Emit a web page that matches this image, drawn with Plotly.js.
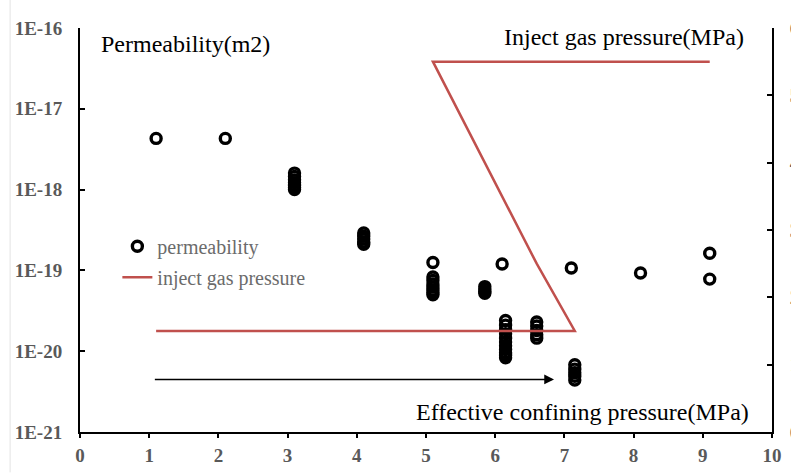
<!DOCTYPE html>
<html>
<head>
<meta charset="utf-8">
<script src="https://cdn.plot.ly/plotly-3.0.1.min.js"></script>
<style>html,body{margin:0;padding:0;background:#fff;}#chart{width:791px;height:475px;}</style>
</head>
<body>
<div id="chart"></div>
<script>
// Effective confining pressure (MPa) for each permeability measurement
const permX = [
  1.1, 2.1,
  3.1, 3.1, 3.1, 3.1, 3.1, 3.1, 3.1,
  4.1, 4.1, 4.1, 4.1, 4.1,
  5.1, 5.1, 5.1, 5.1, 5.1, 5.1, 5.1, 5.1,
  5.85, 5.85, 5.85, 5.85,
  6.1,
  6.15, 6.15, 6.15, 6.15, 6.15, 6.15, 6.15, 6.15, 6.15, 6.15, 6.15,
  6.6, 6.6, 6.6, 6.6, 6.6,
  7.1,
  7.15, 7.15, 7.15, 7.15, 7.15,
  8.1,
  9.1, 9.1
];
// Permeability (m2)
const permY = [
  4.3e-18, 4.3e-18,
  1.6e-18, 1.45e-18, 1.32e-18, 1.22e-18, 1.13e-18, 1.06e-18, 1.0e-18,
  2.9e-19, 2.65e-19, 2.45e-19, 2.25e-19, 2.1e-19,
  1.25e-19, 8.3e-20, 7.5e-20, 6.8e-20, 6.2e-20, 5.7e-20, 5.3e-20, 5.0e-20,
  6.3e-20, 5.9e-20, 5.5e-20, 5.2e-20,
  1.2e-19,
  2.4e-20, 2.1e-20, 1.85e-20, 1.65e-20, 1.45e-20, 1.3e-20, 1.17e-20, 1.05e-20, 9.6e-21, 8.9e-21, 8.3e-21,
  2.3e-20, 2.05e-20, 1.8e-20, 1.6e-20, 1.45e-20,
  1.07e-19,
  6.8e-21, 6.0e-21, 5.4e-21, 4.9e-21, 4.4e-21,
  9.3e-20,
  1.63e-19, 7.8e-20
];
// Inject gas pressure path (MPa) vs effective confining pressure (MPa)
const gasX = [1.1, 7.15, 6.6, 6.1, 5.6, 5.1, 9.1];
const gasY = [1.5, 1.5, 2.5, 3.5, 4.5, 5.5, 5.5];

const xTicks = [0, 1, 2, 3, 4, 5, 6, 7, 8, 9, 10];
const yTickVals = [1e-21, 1e-20, 1e-19, 1e-18, 1e-17, 1e-16];
const yTickText = ["1E-21", "1E-20", "1E-19", "1E-18", "1E-17", "1E-16"];
const y2Ticks = [0, 1, 2, 3, 4, 5, 6];

const serif = "Liberation Serif, Times New Roman, serif";
const tickFont = {family: serif, size: 19, color: "#595959", weight: "bold"};

const traces = [
  {
    x: permX, y: permY, type: "scatter", mode: "markers", name: "permeability",
    legendgroup: "a",
    marker: {symbol: "circle-open", size: 10, color: "#000", line: {width: 3.4, color: "#000"}},
    yaxis: "y"
  },
  {
    x: gasX, y: gasY, type: "scatter", mode: "lines", name: "inject gas pressure",
    legendgroup: "b",
    line: {color: "#C0504D", width: 2.5},
    yaxis: "y2"
  }
];

const layout = {
  width: 791, height: 475,
  margin: {l: 80, r: 19, t: 28, b: 43},
  paper_bgcolor: "#fff", plot_bgcolor: "#fff",
  font: {family: serif},
  showlegend: true,
  legend: {
    x: 0.054, y: 0.508, xanchor: "left", yanchor: "top",
    bgcolor: "rgba(0,0,0,0)",
    font: {family: serif, size: 20, color: "#6b6b6b"},
    traceorder: "grouped", tracegroupgap: 2
  },
  xaxis: {
    range: [0, 10], tickvals: xTicks, ticktext: xTicks.map(String),
    showgrid: false, zeroline: false, showline: true, linecolor: "#000", linewidth: 2,
    ticks: "outside", ticklen: 4, tickwidth: 2, tickcolor: "#000",
    tickfont: tickFont, ticklabelstandoff: 1
  },
  yaxis: {
    type: "log", range: [-21, -16], tickvals: yTickVals, ticktext: yTickText,
    showgrid: false, zeroline: false, showline: true, linecolor: "#000", linewidth: 2,
    ticks: "inside", ticklen: 5, tickwidth: 2, tickcolor: "#000",
    tickfont: tickFont, ticklabelstandoff: 12
  },
  yaxis2: {
    overlaying: "y", side: "right", range: [0, 6], tickvals: y2Ticks, ticktext: y2Ticks.map(String),
    showgrid: false, zeroline: false, showline: true, linecolor: "#000", linewidth: 2,
    ticks: "inside", ticklen: 5, tickwidth: 2, tickcolor: "#000",
    tickfont: tickFont, ticklabelstandoff: 12
  },
  shapes: [
    {type: "line", xref: "paper", yref: "paper", x0: -0.101, x1: -0.101, y0: -0.1, y1: 1.07,
     line: {color: "#e3e3e3", width: 1}}
  ],
  annotations: [
    {text: "Permeability(m2)", xref: "paper", yref: "paper", x: 0.028, y: 0.96,
     xanchor: "left", yanchor: "middle", showarrow: false,
     font: {family: serif, size: 24, color: "#000"}},
    {text: "Inject gas pressure(MPa)", xref: "paper", yref: "paper", x: 0.963, y: 0.977,
     xanchor: "right", yanchor: "middle", showarrow: false,
     font: {family: serif, size: 24, color: "#000"}},
    {text: "Effective confining pressure(MPa)", xref: "paper", yref: "paper", x: 0.97, y: 0.05,
     xanchor: "right", yanchor: "middle", showarrow: false,
     font: {family: serif, size: 24, color: "#000"}},
    {text: "", xref: "x", yref: "y", x: 6.85, y: -20.35, axref: "x", ayref: "y", ax: 1.06, ay: -20.35,
     showarrow: true, arrowhead: 2, arrowsize: 1.3, arrowwidth: 1.5, arrowcolor: "#000"}
  ]
};

Plotly.newPlot("chart", traces, layout, {displayModeBar: false, staticPlot: true});
</script>
</body>
</html>
